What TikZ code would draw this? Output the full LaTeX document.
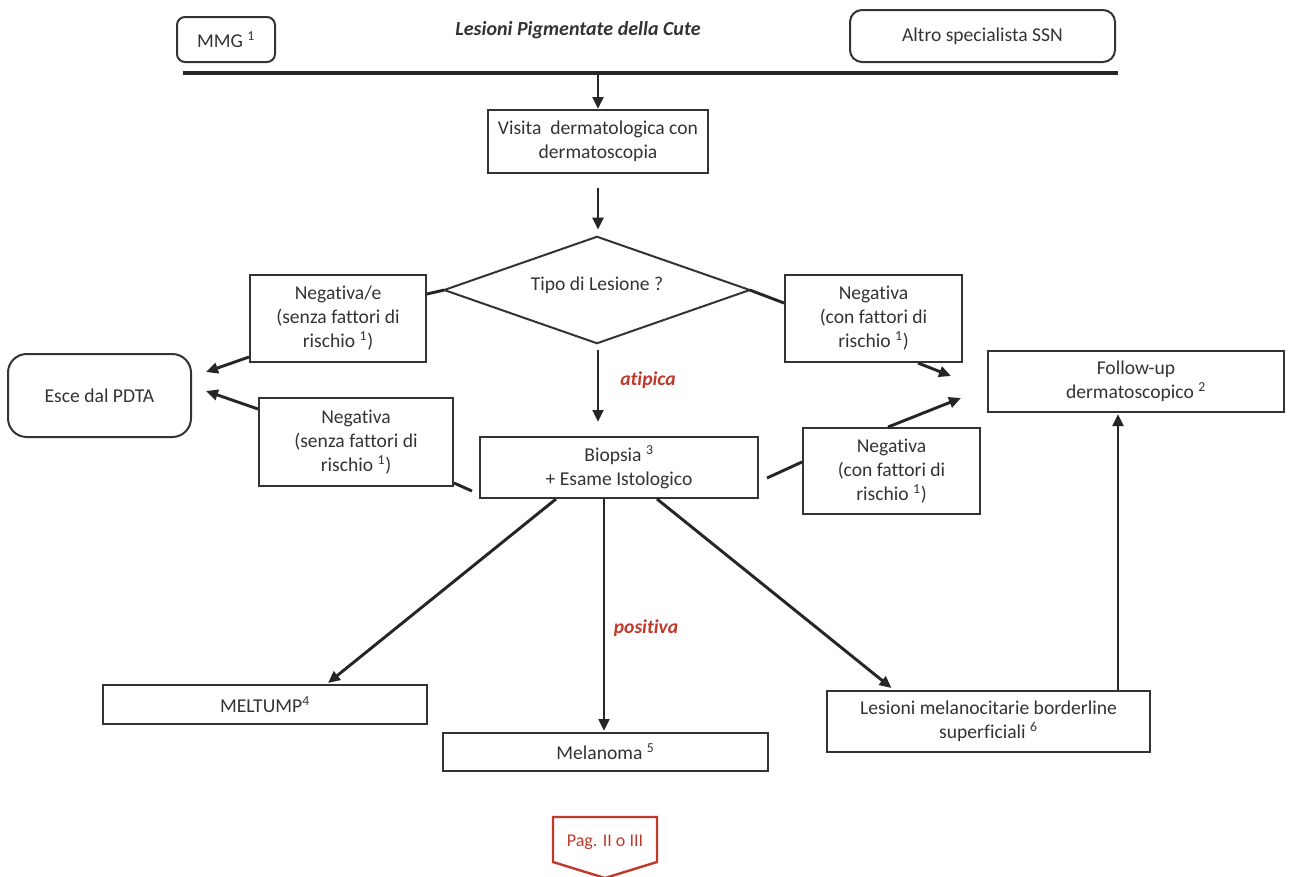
\documentclass[tikz,border=0pt]{standalone}
\usepackage{fontspec}
\setmainfont{Carlito}[Ligatures=NoCommon]
\usetikzlibrary{arrows.meta,calc}
\definecolor{txt}{HTML}{333333}
\definecolor{redl}{HTML}{C0392B}
\newdimen\pxu \pxu=0.75pt
\begin{document}
\begin{tikzpicture}[x=0.75pt,y=-0.75pt,
  font=\fontsize{14.7}{18}\selectfont,
  sbox/.style 2 args={draw=txt, line width=1.5pt, align=center, text=txt, inner sep=0pt,
    minimum width=#1\pxu, minimum height=#2\pxu},
  conn/.style={line width=2.2pt, draw=black!85, -{Triangle[length=9pt,width=8pt]}},
  plain/.style={line width=2.2pt, draw=black!85},
  redlab/.style={text=redl, font=\fontsize{14.7}{18}\selectfont\bfseries\itshape}]
\useasboundingbox (0,0) rectangle (1295,876);
% top
\node[sbox={98}{45}, rounded corners=6pt] (mmg) at (226,39.5) {MMG \textsuperscript{1}};
\node[font=\fontsize{15}{18}\selectfont\bfseries\itshape, text=txt] (title) at (578,30) {Lesioni Pigmentate della Cute};
\node[sbox={265}{52}, rounded corners=9pt] (altro) at (982.5,36) {Altro specialista SSN};
\coordinate (barL) at (183,73);
\coordinate (barR) at (1118,73);
\coordinate (barV) at (598,73);
\draw[line width=3pt, black!85] (barL) -- (barR);
\node[sbox={220}{63}] (visita) at (598,141.5) {Visita\ \ dermatologica con\\dermatoscopia};
\node[inner sep=0pt, minimum width=305\pxu, minimum height=106\pxu, text=txt] (dia) at (597,290) {};
\node[text=txt] (diatext) at (597,285) {Tipo di Lesione ?};
\draw[txt, line width=1.5pt] (dia.north) -- (dia.east) -- (dia.south) -- (dia.west) -- cycle;
% side boxes
\node[sbox={176}{87}] (negL1) at (338,318.5) {Negativa/e\\(senza fattori di\\rischio \textsuperscript{1})};
\node[sbox={183}{83}, rounded corners=14pt] (esce) at (99.5,395.5) {Esce dal PDTA};
\node[sbox={194}{88}] (negL2) at (356,442) {Negativa\\(senza fattori di\\rischio \textsuperscript{1})};
\node[sbox={177}{87}] (negR1) at (873.5,318.5) {Negativa\\(con fattori di\\rischio \textsuperscript{1})};
\node[sbox={296}{61}] (follow) at (1136,381.5) {Follow-up\\dermatoscopico \textsuperscript{2}};
\node[sbox={177}{86}] (negR2) at (891.5,471) {Negativa\\(con fattori di\\rischio \textsuperscript{1})};
\node[sbox={278}{61}] (biop) at (619,467.5) {Biopsia \textsuperscript{3}\\+ Esame Istologico};
% bottom
\node[sbox={324}{39}] (melt) at (265,704.5) {MELTUMP\textsuperscript{4}};
\node[sbox={325}{38}] (mela) at (605.5,752) {Melanoma \textsuperscript{5}};
\node[sbox={323}{61}] (lesb) at (988.5,721.5) {Lesioni melanocitarie borderline\\superficiali \textsuperscript{6}};
\node[text=redl, font=\fontsize{13.5}{16}\selectfont] (pag) at (605,842) {Pag. II o III};
\draw[redl, line width=1.8pt] ($(pag)+(-52,-25)$) -- ($(pag)+(52,-25)$) -- ($(pag)+(52,20)$)
  -- ($(pag)+(0,36)$) -- ($(pag)+(-52,20)$) -- cycle;
% labels
\node[redlab] (atip) at (648,380) {atipica};
\node[redlab] (posi) at (646,628) {positiva};
% connectors
\draw[conn] (barV) -- (visita.north);
\draw[conn] ($(visita.south)+(0,14)$) -- ($(dia.north)+(1,-7)$);
\draw[conn] ($(dia.south)+(1,7)$) -- ($(biop.north)+(-21,-14)$);
\draw[plain] (dia.west) -- ($(negL1.north east)+(0,20)$);
\draw[conn] ($(negL1.south west)+(0,-6)$) -- ($(esce.east)+(14,-23.5)$);
\draw[conn] ($(negL2.north west)+(0,12)$) -- ($(esce.east)+(14,-4.5)$);
\draw[plain] ($(negL2.south east)+(0,-4)$) -- ($(biop.south west)+(-7,-8)$);
\draw[plain] (dia.east) -- ($(negR1.west)+(0,-15.5)$);
\draw[conn] ($(negR1.south)+(44.5,0)$) -- ($(follow.west)+(-36,-5.5)$);
\draw[conn] ($(negR2.north)+(-3.5,0)$) -- ($(follow.west)+(-26,16.5)$);
\draw[plain] ($(biop.east)+(8,10.5)$) -- ($(negR2.west)+(0,-9)$);
\draw[conn] ($(biop.south)+(-63,0)$) -- ($(melt.north)+(63,-1)$);
\draw[conn] ($(biop.south)+(-15,0)$) -- ($(mela.north)+(-1.5,-1)$);
\draw[conn] ($(biop.south)+(38,0)$) -- ($(lesb.north)+(-97,-2)$);
\draw[conn] ($(lesb.north)+(129.5,0)$) -- ($(follow.south)+(-18,1)$);
\end{tikzpicture}
\end{document}
